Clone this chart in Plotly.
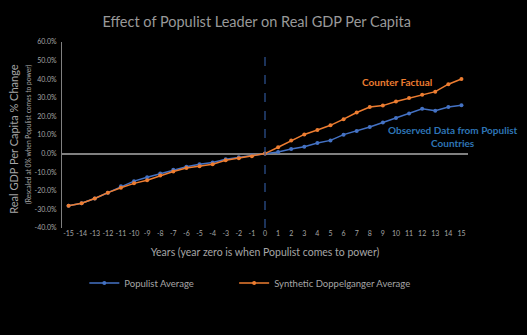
import plotly.graph_objects as go

years = list(range(-15, 16))
populist_avg = [-28.0, -26.7, -24.1, -21.0, -17.5, -14.8, -12.7, -10.7, -8.7, -7.1, -5.7, -4.8, -3.0, -2.0, -0.9, 0.0,
                0.9, 2.5, 3.7, 5.7, 7.1, 10.2, 12.1, 14.3, 16.7, 19.1, 21.6, 24.1, 23.0, 25.0, 26.0]
synthetic_avg = [-28.0, -26.7, -24.1, -21.0, -18.4, -16.0, -14.3, -11.8, -9.6, -7.8, -6.8, -5.7, -3.6, -2.5, -1.4, 0.0,
                 3.4, 7.0, 10.3, 12.7, 15.2, 18.5, 22.1, 25.0, 25.8, 28.0, 29.9, 31.7, 33.3, 37.3, 40.1]
y_ticks = [-40, -30, -20, -10, 0, 10, 20, 30, 40, 50, 60]
y_tick_labels = [f"{v:.1f}%" for v in y_ticks]

BLUE = "#4472c4"
ORANGE = "#ed7d31"
GRAY = "#a6a6a6"
FONT = "Lato"

fig = go.Figure()
fig.add_trace(go.Scatter(x=years, y=populist_avg, mode="lines+markers", name="Populist Average",
                         line=dict(color=BLUE, width=1.5), marker=dict(size=4, color=BLUE), legend="legend"))
fig.add_trace(go.Scatter(x=years, y=synthetic_avg, mode="lines+markers", name="Synthetic Doppelganger Average",
                         line=dict(color=ORANGE, width=1.5), marker=dict(size=4, color=ORANGE), legend="legend2"))

fig.add_shape(type="line", xref="x", yref="paper", x0=0, x1=0, y0=0, y1=0.92,
              line=dict(color="#2f5597", width=1.2, dash="dash"))

fig.add_annotation(x=10.1, y=38.7, xref="x", yref="y", text="<b>Counter Factual</b>", showarrow=False,
                   font=dict(family=FONT, size=10, color=ORANGE))
fig.add_annotation(x=14.35, y=9.4, xref="x", yref="y", text="<b>Observed Data from Populist<br>Countries</b>",
                   showarrow=False, align="center", font=dict(family=FONT, size=10, color="#2e75b6"))

fig.add_annotation(xref="paper", yref="paper", x=-0.118, y=0.48, xanchor="center", yanchor="middle",
                   text="Real GDP Per Capita % Change", textangle=-90, showarrow=False,
                   font=dict(family=FONT, size=11, color=GRAY))
fig.add_annotation(xref="paper", yref="paper", x=-0.0837, y=0.505, xanchor="center", yanchor="middle",
                   text="(Rescaled at 0% when Populist comes to power)", textangle=-90, showarrow=False,
                   font=dict(family=FONT, size=6.7, color=GRAY))

legend_common = dict(orientation="h", yanchor="middle", xanchor="left", y=-0.296,
                     font=dict(family=FONT, size=9.5, color=GRAY), itemwidth=30,
                     bgcolor="rgba(0,0,0,0)")

fig.update_layout(
    width=527, height=335,
    paper_bgcolor="black", plot_bgcolor="black",
    margin=dict(l=62, r=59, t=42, b=107, autoexpand=False),
    title=dict(text="Effect of Populist Leader on Real GDP Per Capita", x=0.487, xanchor="center",
               y=0.935, yanchor="middle", font=dict(family=FONT, size=14.5, color="#999999")),
    font=dict(family=FONT, color=GRAY),
    showlegend=True,
    legend=dict(x=0.055, **legend_common),
    legend2=dict(x=0.424, **legend_common),
    xaxis=dict(range=[-15.5, 15.5], tickvals=years, ticktext=[str(v) for v in years],
               showgrid=False, zeroline=False, showline=False, ticks="", automargin=False,
               tickfont=dict(family=FONT, size=7, color=GRAY),
               title=dict(text="Years (year zero is when Populist comes to power)",
                          font=dict(family=FONT, size=10.5, color=GRAY), standoff=12)),
    yaxis=dict(range=[-40, 60], tickvals=y_ticks, ticktext=y_tick_labels, automargin=False,
               showgrid=False, zeroline=True, zerolinecolor="#808080", zerolinewidth=1.5,
               showline=True, linecolor="#808080", linewidth=1, ticks="", ticklabelstandoff=3,
               tickfont=dict(family=FONT, size=7, color=GRAY)),
)

fig.write_html("out.html")
